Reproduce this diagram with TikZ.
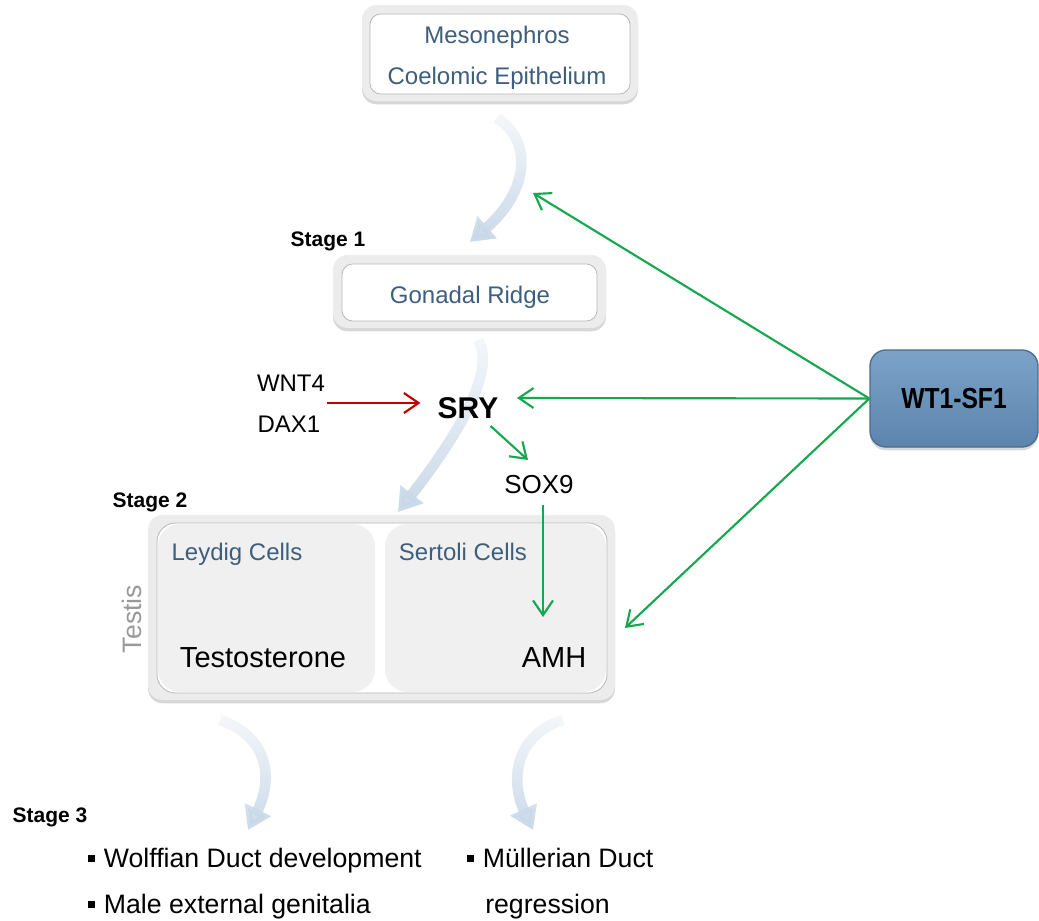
\documentclass[tikz,border=0pt]{standalone}
\usepackage{fontspec}
\usepackage{graphicx}
\setmainfont{Liberation Sans}
\usetikzlibrary{arrows.meta,shadows,fadings,calc}
\definecolor{txtblue}{RGB}{62,94,126}
\definecolor{grn}{RGB}{22,168,78}
\definecolor{rd}{RGB}{192,0,0}
\definecolor{bandc}{RGB}{236,236,236}
\definecolor{panelc}{RGB}{240,240,240}
\definecolor{curv}{RGB}{200,216,232}
\definecolor{wtA}{RGB}{124,162,200}
\definecolor{wtB}{RGB}{92,133,173}
\definecolor{wtD}{RGB}{74,108,142}
\tikzfading[name=fadetop, top color=transparent!80, bottom color=transparent!0]
\newcommand\fsz[1]{\fontsize{#1}{#1}\selectfont}
\begin{document}
\begin{tikzpicture}[x=0.75pt,y=-0.75pt,
  band/.style={fill=bandc, rounded corners=11pt, drop shadow={shadow xshift=0pt,shadow yshift=-2.5pt,opacity=0.35,fill=black!45}},
  innerp/.style={fill=white, draw=black!28, line width=0.6pt, rounded corners=8pt},
  pan/.style={fill=panelc, rounded corners=17pt},
  lbl/.style={inner sep=0pt, anchor=base, text=txtblue, font=\fsz{18}},
  blk/.style={inner sep=0pt, anchor=base, text=black},
  stage/.style={inner sep=0pt, anchor=base, font=\bfseries\fsz{15.75}},
  curved/.style={draw=curv, line width=8pt, path fading=fadetop, -{Triangle[length=17pt,width=21pt]}},
  garrow/.style={draw=grn, line width=1.6pt, -{Straight Barb[length=11pt,width=15pt]}},
  rarrow/.style={draw=rd, line width=1.6pt, -{Straight Barb[length=11pt,width=15pt]}},
  wtbox/.style={rounded corners=12pt, top color=wtA, bottom color=wtB, draw=wtD, line width=1pt,
    minimum width=126pt, minimum height=72.75pt, inner sep=0pt,
    drop shadow={shadow xshift=0pt,shadow yshift=-2.5pt,opacity=0.3,fill=black!50}},
  bullet/.style={blk, anchor=base west, font=\fsz{20}}
]
\useasboundingbox (0,0) rectangle (1039,921);

% frames
\path[band] (362,5) rectangle (638,101);
\draw[innerp] (370,14) rectangle (630,94);
\path[band] (333,255) rectangle (606,328);
\draw[innerp] (342,264) rectangle (597,321);
\path[band] (148,515) rectangle (615,700);
\draw[innerp, rounded corners=14pt] (157,523) rectangle (607,693);
\path[pan] (158,524) rectangle (375,692);
\path[pan] (385,524) rectangle (606,692);

% curved flow arrows
\draw[curved] (497,118) .. controls (532,140) and (530,190) .. (470,242);
\draw[curved] (478,340) .. controls (494,365) and (470,420) .. (398,512);
\draw[curved] (220,720) .. controls (265,735) and (275,775) .. (248,830);
\draw[curved] (563,720) .. controls (515,735) and (510,780) .. (533,830);

% texts
\node[lbl] (meso) at (497,43) {Mesonephros};
\node[lbl] (coel) at (497,84) {Coelomic Epithelium};
\node[lbl] (gon) at (470,303) {Gonadal Ridge};
\node[stage] (s1) at (328,246) {Stage 1};
\node[stage] (s2) at (150,507) {Stage 2};
\node[stage] (s3) at (50,822) {Stage 3};
\node[blk, font=\fsz{18}] (wnt) at (291,391) {WNT4};
\node[blk, font=\fsz{18}] (dax) at (289,432) {DAX1};
\node[blk, font=\bfseries\fsz{22.5}] (sry) at (468,418) {SRY};
\node[blk, font=\fsz{19.5}] (sox) at (539,493) {SOX9};
\node[lbl] (ley) at (237,560) {Leydig Cells};
\node[lbl] (ser) at (463,560) {Sertoli Cells};
\node[blk, font=\fsz{21.75}] (tes) at (263,667) {Testosterone};
\node[blk, font=\fsz{21.75}] (amh) at (554,667) {AMH};
\node[inner sep=0pt, anchor=base, rotate=90, text=black!40, font=\fsz{20}] (testis) at (141,619) {Testis};
\node[wtbox] (wt1) at (954,398.5) {\fsz{21.75}\scalebox{0.85}[1]{\bfseries WT1-SF1}};

\node[bullet] (b1) at (88,867) {\rule[3.5pt]{5.25pt}{5.25pt}\hspace{6.5pt}Wolffian Duct development};
\node[bullet] (b2) at (88,913) {\rule[3.5pt]{5.25pt}{5.25pt}\hspace{6.5pt}Male external genitalia};
\node[bullet] (b3) at (467,867) {\rule[3.5pt]{5.25pt}{5.25pt}\hspace{6.5pt}M\"ullerian Duct};
\node[bullet] (b4) at (485,913) {regression};

% regulatory arrows
\coordinate (t1) at (533,193);
\coordinate (t2) at (517,398);
\coordinate (t3) at (625,628);
\draw[garrow] (wt1.west) -- (t1);
\draw[garrow] (wt1.west) -- (t2);
\draw[garrow] (wt1.west) -- (t3);
\draw[garrow] ($(sry.base east)+(-8,8)$) -- ($(sox.base)+(-11,-33)$);
\draw[garrow] ($(sox.base)+(4,12)$) -- ++(0,112);
\draw[rarrow] ($(wnt.base east)+(2,12)$) -- ($(sry.base west)+(-17,-15)$);
\end{tikzpicture}
\end{document}
